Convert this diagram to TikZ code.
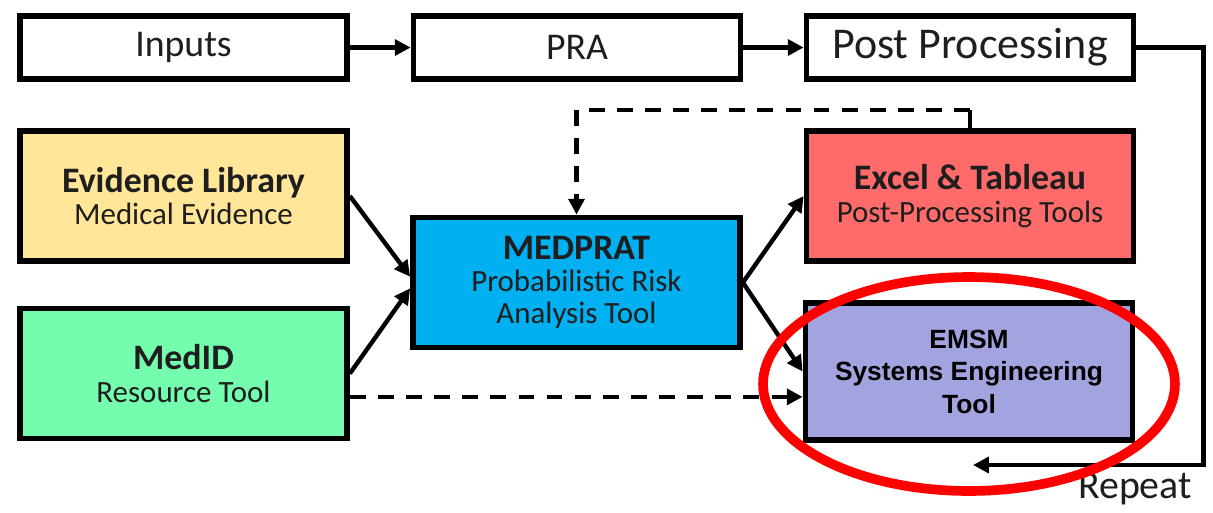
\documentclass[tikz,border=0pt]{standalone}
\usepackage{fontspec}
\setmainfont{Carlito}
\newfontfamily\arialfont{Liberation Sans}
\usetikzlibrary{arrows.meta,shadows}
\definecolor{evidcol}{RGB}{255,230,153}
\definecolor{medidcol}{RGB}{117,253,175}
\definecolor{medpratcol}{RGB}{0,176,240}
\definecolor{excelcol}{RGB}{255,107,107}
\definecolor{emsmcol}{RGB}{163,163,223}
\definecolor{textcol}{RGB}{30,30,30}
\tikzset{
  stagebox/.style={draw, line width=3.3pt, fill=white, text=textcol, inner sep=0pt,
    minimum width=6.54cm, minimum height=1.26cm,
    drop shadow={opacity=0.3, shadow xshift=1.5pt, shadow yshift=-1.5pt}},
  toolbox/.style={draw, line width=3.3pt, inner sep=0pt, align=center, text=textcol,
    minimum width=6.54cm, minimum height=2.6cm, font=\fontsize{17.6}{18.3}\selectfont},
  arr/.style={line width=2.5pt, -{Triangle[length=9pt,width=9pt]}},
  dasharr/.style={arr, dash pattern=on 9pt off 7pt},
}
\newcommand{\ttl}[1]{{\fontsize{20.4}{18.3}\selectfont\bfseries #1}}

\begin{document}
\begin{tikzpicture}[x=0.02cm,y=-0.02cm]
\useasboundingbox (0,0) rectangle (1213,512);

\node[stagebox, font=\fontsize{21.5}{24}\selectfont] (inputs) at (183.5,47.5) {Inputs};
\node[stagebox, font=\fontsize{21.5}{24}\selectfont] (pra) at (577,47.5) {PRA};
\node[stagebox, font=\fontsize{25}{28}\selectfont] (post) at (970,47.5) {Post Processing};

\node[toolbox, fill=evidcol] (evid) at (183.5,196)
  {\ttl{Evidence Library}\\Medical Evidence};
\node[toolbox, fill=medidcol] (medid) at (183.5,373.5)
  {\ttl{MedID}\\Resource Tool};
\node[toolbox, fill=medpratcol] (medprat) at (576.5,282.5)
  {\ttl{MEDPRAT}\\Probabilistic Risk\\Analysis Tool};
\node[toolbox, fill=excelcol] (excel) at (970,196)
  {\ttl{Excel \& Tableau}\\Post-Processing Tools};
\node[toolbox, fill=emsmcol, minimum height=2.74cm,
  font=\arialfont\bfseries\fontsize{15}{18.5}\selectfont, text=black] (emsm) at (969,371.5)
  {EMSM\\Systems Engineering\\Tool};

\coordinate (back) at (973,465);
\coordinate (fb) at (970,110);

\draw[arr] (inputs) -- (pra);
\draw[arr] (pra) -- (post);
\draw[arr] (post.east) -- ++(67,0) |- (back);
\node[font=\fontsize{22.7}{24}\selectfont, text=textcol] (repeat) at (1135,489) {Repeat};

\draw[line width=2.5pt] (excel.north) -- (fb);
\draw[dasharr] (fb) -| (medprat.north);

\draw[arr] (evid.east) -- (medprat.178);
\draw[arr] (medid.east) -- (medprat.182);
\draw[arr] (medprat.east) -- (excel.west);
\draw[arr] (medprat.east) -- (emsm.west);
\draw[dasharr] (medid.-8) -- (medid.-8 -| emsm.west);

\draw[red, line width=5.5pt] (969,384) ellipse [x radius=4.12cm, y radius=2.14cm];
\end{tikzpicture}
\end{document}
